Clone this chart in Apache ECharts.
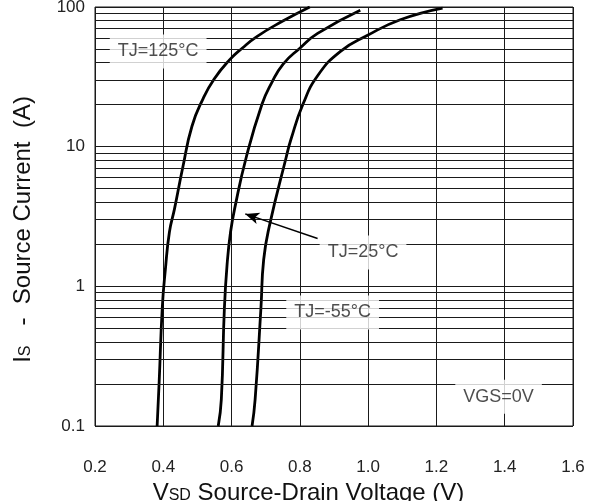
<!DOCTYPE html>
<html><head><meta charset="utf-8">
<script src="https://cdn.jsdelivr.net/npm/echarts@6/dist/echarts.min.js"></script>
<style>html,body{margin:0;padding:0;background:#fff}#c{width:597px;height:501px}</style>
</head><body><div id="c"></div>
<script>
// ---- data ----
const xTickValues = [0.2, 0.4, 0.6, 0.8, 1.0, 1.2, 1.4, 1.6];
const yTickLabels = ['0.1', '1', '10', '100'];
const yMinorLines = [0.2,0.3,0.4,0.5,0.6,0.7,0.8,0.9, 2,3,4,5,6,7,8,9, 20,30,40,50,60,70,80,90];

// TJ = 125 °C
const vsd125 = [0.382, 0.388, 0.397, 0.406, 0.418, 0.433, 0.457, 0.484, 0.516, 0.549, 0.594, 0.631, 0.674, 0.746, 0.829];
const is125  = [0.1,   0.209, 0.70,  1.31,  2.45,  3.6,   7.1,   14.0,  21.9,  30.5,  41.8,  50.7,  61.4,  78.3,  100];
// TJ = 25 °C
const vsd25 = [0.561, 0.570, 0.579, 0.588, 0.597, 0.609, 0.643, 0.689, 0.717, 0.751, 0.800, 0.852, 0.977];
const is25  = [0.1,   0.155, 0.70,  1.55,  2.45,  3.6,   8.4,   20.1,  28.5,  39.0,  50.7,  64.7,  94.9];
// TJ = -55 °C
const vsdM55 = [0.660, 0.669, 0.686, 0.694, 0.711, 0.760, 0.774, 0.809, 0.852, 0.919, 0.997, 1.094, 1.218];
const isM55  = [0.1,   0.155, 0.70,  1.55,  2.72,  8.4,   11.3,  20.1,  32.2,  48.1,  62.4,  81.1,  98.3];

const noteTexts = ['TJ=125°C', 'TJ=25°C', 'TJ=-55°C', 'VGS=0V'];
const noteX     = [0.385, 0.985, 0.896, 1.382];
const noteY     = [48, 1.75, 0.65, 0.162];

const arrowFrom = [0.852, 2.2];
const arrowTo   = [0.640, 3.3];

// ---- chart ----
const zip = (a, b) => a.map((v, i) => [v, b[i]]);
const FONT = '"Liberation Sans", Arial, sans-serif';
const INK = '#1a1a1a';

const curve = (name, xs, ys) => ({
  name, type: 'line', data: zip(xs, ys), showSymbol: false, smooth: 0.5, z: 3,
  lineStyle: { color: '#000', width: 2.8 }, silent: true
});

const chart = echarts.init(document.getElementById('c'), null, { renderer: 'canvas' });
chart.setOption({
  animation: false,
  backgroundColor: '#fff',
  grid: { left: 95, right: 24, top: 7, bottom: 75, outerBoundsMode: 'none', containLabel: false,
    show: true, borderColor: INK, borderWidth: 1, backgroundColor: 'transparent' },
  xAxis: {
    type: 'value', min: 0.2, max: 1.6, interval: 0.2,
    axisLine: { show: false }, axisTick: { show: false },
    splitLine: { show: true, lineStyle: { color: INK, width: 1 } },
    axisLabel: { margin: 33, fontSize: 17, color: '#222', fontFamily: FONT,
      formatter: v => { const i = xTickValues.findIndex(t => Math.abs(t - v) < 1e-6); return i >= 0 ? xTickValues[i].toFixed(1) : ''; } },
    name: '{a|V}{b|SD}{a| Source-Drain Voltage (V)}',
    nameLocation: 'middle', nameGap: 50,
    nameTextStyle: { padding: [0, 51, 0, 0], rich: {
      a: { fontSize: 24, fontFamily: FONT, color: '#111', verticalAlign: 'bottom' },
      b: { fontSize: 16, fontFamily: FONT, color: '#111', verticalAlign: 'bottom', padding: [0, 0, 1, 0] }
    } }
  },
  yAxis: {
    type: 'log', logBase: 10, min: 0.1, max: 100,
    axisLine: { show: false }, axisTick: { show: false },
    splitLine: { show: true, lineStyle: { color: INK, width: 1 } },
    axisLabel: { margin: 10, fontSize: 17, color: '#222', fontFamily: FONT, padding: [8, 0, 0, 0],
      formatter: v => { const i = Math.round(Math.log10(v)) + 1; return yTickLabels[i] || ''; } },
    name: '{a|I}{b|S}{a|   -  Source Current  }{a|(A)}',
    nameLocation: 'middle', nameGap: 60,
    nameTextStyle: { padding: [0, 26, 0, 0], rich: {
      a: { fontSize: 24, fontFamily: FONT, color: '#111', verticalAlign: 'bottom' },
      b: { fontSize: 16, fontFamily: FONT, color: '#111', verticalAlign: 'bottom', padding: [0, 0, 1, 0] }
    } }
  },
  series: [
    { type: 'line', data: [], z: 1, silent: true,
      markLine: { silent: true, symbol: ['none', 'none'], animation: false,
        label: { show: false }, lineStyle: { color: INK, width: 1, type: 'solid' },
        data: yMinorLines.map(v => ({ yAxis: v })) } },
    curve('125', vsd125, is125),
    curve('25', vsd25, is25),
    curve('-55', vsdM55, isM55),
    { type: 'scatter', z: 6, symbolSize: 0, silent: true,
      data: noteTexts.map((t, i) => ({ value: [noteX[i], noteY[i]], name: t })),
      label: { show: true, position: 'inside', formatter: p => p.name,
        fontSize: 18, fontFamily: FONT, color: '#222', backgroundColor: '#fff', padding: [8, 8] },
      markLine: { silent: true, symbol: ['none', 'arrow'], symbolSize: [9, 14], animation: false,
        label: { show: false }, lineStyle: { color: '#000', width: 1.5, type: 'solid' },
        data: [[{ coord: arrowFrom }, { coord: arrowTo }]] } }
  ]
});
</script></body></html>
